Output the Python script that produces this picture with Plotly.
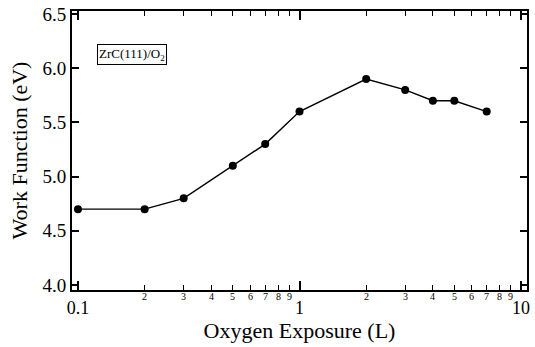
import plotly.graph_objects as go
import numpy as np

# Work function vs. oxygen exposure on ZrC(111)
exposure = [0.1, 0.2, 0.3, 0.5, 0.7, 1.0, 2.0, 3.0, 4.0, 5.0, 7.0]
work_function = [4.7, 4.7, 4.8, 5.1, 5.3, 5.6, 5.9, 5.8, 5.7, 5.7, 5.6]

major_ticks = [0.1, 1, 10]
major_labels = ["0.1", "1", "10"]
minor_digits = [2, 3, 4, 5, 6, 7, 8, 9]
minor_ticks = [d * 10.0 ** p for p in (-1, 0) for d in minor_digits]
minor_labels = [str(d) for p in (-1, 0) for d in minor_digits]

y_ticks = [4.0, 4.5, 5.0, 5.5, 6.0, 6.5]
y_labels = ["4.0", "4.5", "5.0", "5.5", "6.0", "6.5"]

serif = "Liberation Serif"

fig = go.Figure()
fig.add_trace(go.Scatter(
    x=exposure, y=work_function, mode="lines+markers",
    line=dict(color="black", width=1.4),
    marker=dict(color="black", size=8),
    showlegend=False,
))

fig.update_layout(
    template="none",
    width=535, height=347,
    margin=dict(l=72, r=8, t=11, b=57),
    paper_bgcolor="white", plot_bgcolor="white",
    font=dict(family=serif, color="black", size=15),
    xaxis=dict(
        type="log", range=[-1.027, 1.027],
        tickmode="array", tickvals=major_ticks, ticktext=major_labels,
        ticks="inside", ticklen=9, tickwidth=1.5, tickcolor="black",
        tickfont=dict(size=18, family=serif, color="black"),
        showline=True, linecolor="black", linewidth=2, mirror="allticks",
        showgrid=False, zeroline=False,
        minor=dict(tickmode="array", tickvals=minor_ticks, ticks="inside",
                   ticklen=5, tickwidth=1.3, tickcolor="black", showgrid=False),
        title=dict(text="Oxygen Exposure (L)",
                   font=dict(size=22, family=serif, color="black"), standoff=4),
    ),
    yaxis=dict(
        range=[3.954, 6.528],
        tickmode="array", tickvals=y_ticks, ticktext=y_labels,
        ticks="inside", ticklen=7, tickwidth=1.5, tickcolor="black",
        tickfont=dict(size=19, family=serif, color="black"),
        showline=True, linecolor="black", linewidth=2, mirror="allticks",
        showgrid=False, zeroline=False,
        title=dict(text="Work Function (eV)",
                   font=dict(size=22, family=serif, color="black"), standoff=9),
    ),
)

# small digit labels just under the minor decade ticks
for xv, lab in zip(minor_ticks, minor_labels):
    fig.add_annotation(
        x=np.log10(xv), y=0, xref="x", yref="paper",
        text=lab, showarrow=False, yanchor="top", yshift=1,
        font=dict(size=10, family=serif, color="black"),
    )

fig.add_annotation(
    x=0.055, y=0.845, xref="paper", yref="paper",
    xanchor="left", yanchor="middle",
    text="ZrC(111)/O<sub>2</sub>", showarrow=False,
    font=dict(size=13, family=serif, color="black"),
    bordercolor="black", borderwidth=1, borderpad=1,
)

fig.write_html("out.html")
